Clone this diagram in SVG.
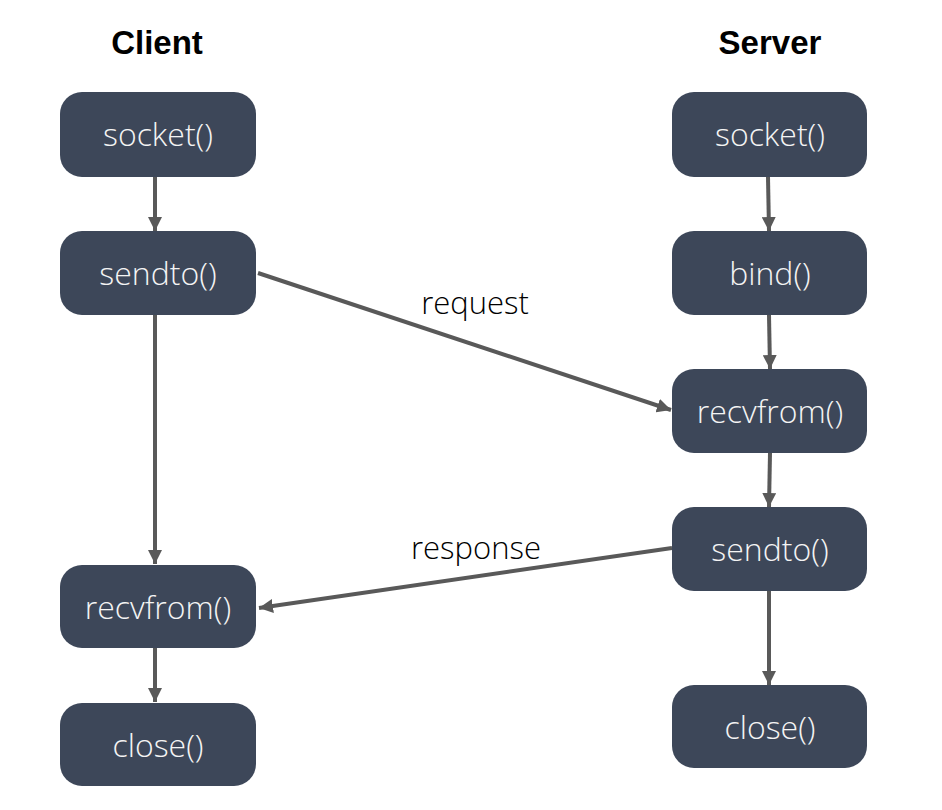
<svg xmlns="http://www.w3.org/2000/svg" width="942" height="810" viewBox="0 0 942 810">
<defs>
<marker id="ah" viewBox="0 0 10 10" refX="10" refY="5" markerWidth="3.5" markerHeight="3.5" markerUnits="strokeWidth" orient="auto">
<path d="M0,0 L10,5 L0,10 z" fill="#595959"/>
</marker>
<style>
.box{fill:#3d4759;}
.lbl{fill:#f4f4f4;font-family:"Open Sans","Noto Sans",sans-serif;font-weight:300;font-size:32px;text-anchor:middle;}
.hd{fill:#000;font-family:"Liberation Sans",sans-serif;font-weight:bold;font-size:33px;text-anchor:middle;}
.el{fill:#000;font-family:"Open Sans","Noto Sans",sans-serif;font-weight:300;font-size:31px;text-anchor:middle;}
.ln{stroke:#595959;stroke-width:4;fill:none;marker-end:url(#ah);}
</style>
</defs>
<rect width="942" height="810" fill="#ffffff"/>
<text class="hd" x="157" y="54">Client</text>
<text class="hd" x="770" y="54">Server</text>
<g id="connectors">
<line class="ln" x1="155" y1="177" x2="155" y2="231"/>
<line class="ln" x1="155" y1="315" x2="155" y2="564"/>
<line class="ln" x1="155" y1="648" x2="155" y2="702"/>
<line class="ln" x1="768" y1="177" x2="769" y2="231"/>
<line class="ln" x1="769" y1="315" x2="770" y2="369"/>
<line class="ln" x1="770" y1="453" x2="769" y2="507"/>
<line class="ln" x1="769" y1="591" x2="769" y2="685"/>
<line class="ln" x1="258" y1="273" x2="671" y2="410"/>
<line class="ln" x1="672" y1="548" x2="259" y2="608"/>
<text class="el" x="475" y="314">request</text>
<text class="el" x="476" y="559">response</text>
</g>
<g id="c_socket"><rect class="box" x="60" y="92" width="196" height="85" rx="22"/><text class="lbl" x="158" y="146">socket()</text></g>
<g id="c_sendto"><rect class="box" x="60" y="231" width="196" height="84" rx="22"/><text class="lbl" x="158" y="285">sendto()</text></g>
<g id="c_recvfrom"><rect class="box" x="60" y="565" width="196" height="83" rx="22"/><text class="lbl" x="158" y="619">recvfrom()</text></g>
<g id="c_close"><rect class="box" x="60" y="703" width="196" height="83" rx="22"/><text class="lbl" x="158" y="757">close()</text></g>
<g id="s_socket"><rect class="box" x="672" y="92" width="195" height="85" rx="22"/><text class="lbl" x="770" y="146">socket()</text></g>
<g id="s_bind"><rect class="box" x="672" y="231" width="195" height="84" rx="22"/><text class="lbl" x="770" y="285">bind()</text></g>
<g id="s_recvfrom"><rect class="box" x="672" y="369" width="195" height="84" rx="22"/><text class="lbl" x="770" y="423">recvfrom()</text></g>
<g id="s_sendto"><rect class="box" x="672" y="507" width="195" height="84" rx="22"/><text class="lbl" x="770" y="561">sendto()</text></g>
<g id="s_close"><rect class="box" x="672" y="685" width="195" height="83" rx="22"/><text class="lbl" x="770" y="739">close()</text></g>
</svg>
